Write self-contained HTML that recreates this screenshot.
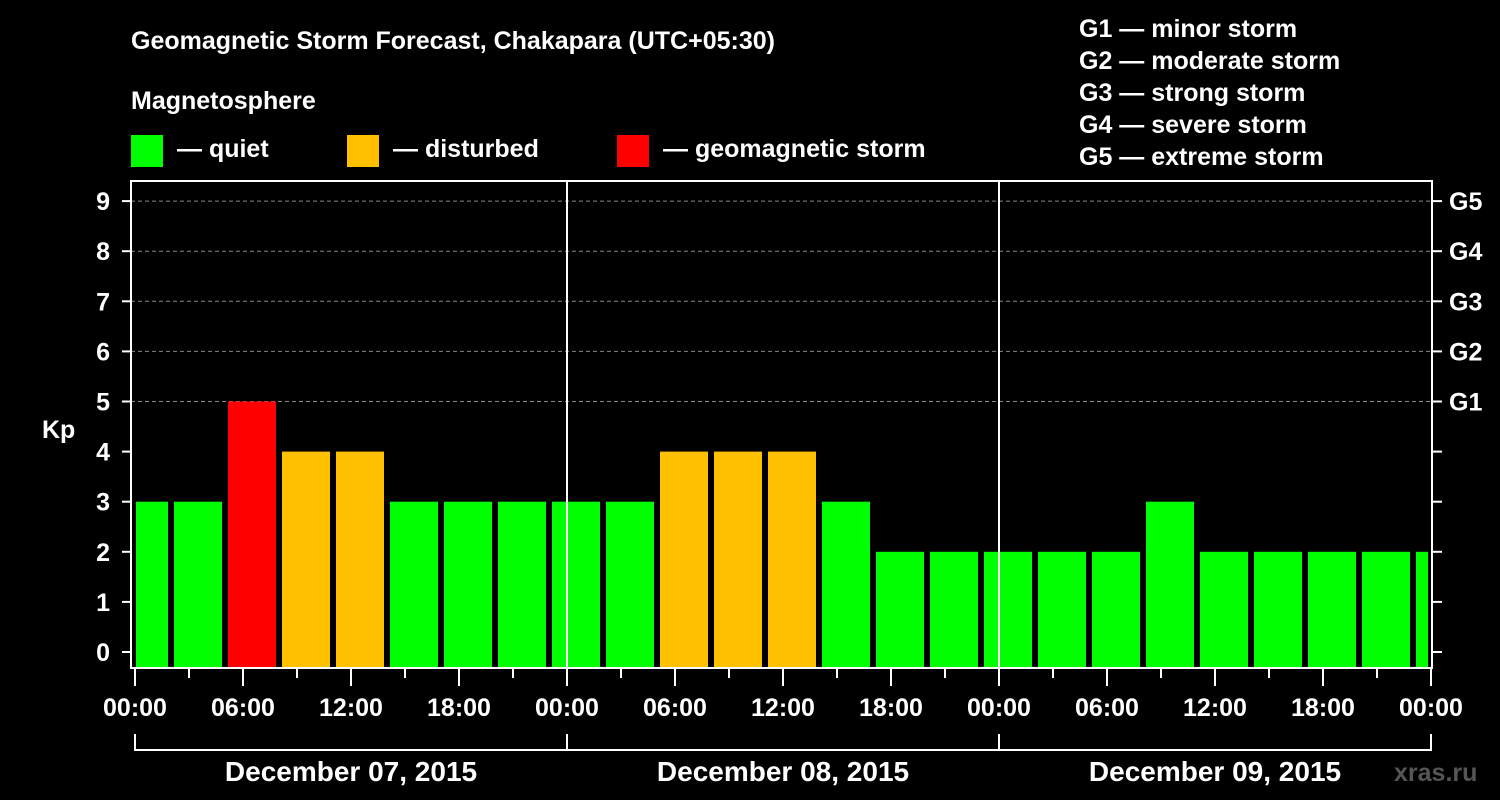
<!DOCTYPE html>
<html><head><meta charset="utf-8"><style>
html,body{margin:0;padding:0;background:#000;}
svg{display:block;font-family:"Liberation Sans",Arial,sans-serif;font-weight:bold;}
</style></head><body>
<svg id="chart" width="1500" height="800" viewBox="0 0 1500 800" xmlns="http://www.w3.org/2000/svg">
<rect width="1500" height="800" fill="#000"/>
<text x="131" y="49" fill="#fff" font-size="25">Geomagnetic Storm Forecast, Chakapara (UTC+05:30)</text>
<text x="131" y="109" fill="#fff" font-size="25">Magnetosphere</text>
<g><rect x="131" y="135" width="32" height="32" fill="#00ff00"/><text x="177" y="157" fill="#fff" font-size="25">— quiet</text></g>
<g><rect x="347" y="135" width="32" height="32" fill="#ffc000"/><text x="393" y="157" fill="#fff" font-size="25">— disturbed</text></g>
<g><rect x="617" y="135" width="32" height="32" fill="#ff0000"/><text x="663" y="157" fill="#fff" font-size="25">— geomagnetic storm</text></g>
<g fill="#fff" font-size="25">
<text x="1079" y="37">G1 — minor storm</text>
<text x="1079" y="69">G2 — moderate storm</text>
<text x="1079" y="101">G3 — strong storm</text>
<text x="1079" y="133">G4 — severe storm</text>
<text x="1079" y="165">G5 — extreme storm</text>
</g>
<text x="42" y="438" fill="#fff" font-size="25">Kp</text>
<text x="1394" y="781" fill="#555" font-size="25">xras.ru</text>
<defs><clipPath id="pc"><rect x="136" y="180" width="1292" height="488"/></clipPath></defs>
<g id="grid"></g>
<g id="bars" clip-path="url(#pc)"></g>
<g id="axes"></g>
</svg>
<script>
const kpValues=[3,3,5,4,4,3,3,3,3,3,4,4,4,3,2,2,2,2,2,3,2,2,2,2,2];
const yTicks=[0,1,2,3,4,5,6,7,8,9];
const gLabels=["G1","G2","G3","G4","G5"];
const gLevels=[5,6,7,8,9];
const xTickLabels=["00:00","06:00","12:00","18:00","00:00","06:00","12:00","18:00","00:00","06:00","12:00","18:00","00:00"];
const dayLabels=["December 07, 2015","December 08, 2015","December 09, 2015"];
const slotStartHour=-1;
const slotHours=3;

const NS="http://www.w3.org/2000/svg";
const X0=135,PXH=18,Y0=652,PXK=50.1,L=131,R=1432,T=181,B=668;
const xs=h=>X0+h*PXH, ys=k=>Y0-k*PXK;
function mk(tag,at,parent){const e=document.createElementNS(NS,tag);for(const k in at)e.setAttribute(k,at[k]);parent.appendChild(e);return e;}
const grid=document.getElementById('grid'),bars=document.getElementById('bars'),axes=document.getElementById('axes');
gLevels.forEach((k,i)=>{
 const l=mk('line',{x1:L,x2:R,y1:ys(k),y2:ys(k),stroke:'#888','stroke-dasharray':'4,3','stroke-width':1},grid);
 
 
 const t=mk('text',{x:1449,y:ys(k)+9,fill:'#fff','font-size':25},axes);t.textContent=gLabels[i];
 
 
});
kpValues.forEach((v,i)=>{
 const h0=slotStartHour+i*slotHours;
 const col=v>=5?'#ff0000':(v>=4?'#ffc000':'#00ff00');
 const r=mk('rect',{x:xs(h0)+3,y:ys(v),width:slotHours*PXH-6,height:B-1-ys(v),fill:col},bars);
 
 
});
// day separators
[1,2].forEach(d=>{const l=mk('line',{x1:xs(d*24),x2:xs(d*24),y1:T,y2:B,stroke:'#fff','stroke-width':2},axes);
 
 });
// frame
const f=mk('rect',{x:L,y:T,width:R-L,height:B-T,fill:'none',stroke:'#fff','stroke-width':2},axes);


yTicks.forEach(k=>{
 mk('line',{x1:122,x2:L,y1:ys(k),y2:ys(k),stroke:'#fff','stroke-width':2},axes);
 mk('line',{x1:R,x2:1442,y1:ys(k),y2:ys(k),stroke:'#fff','stroke-width':2},axes);
 const t=mk('text',{x:110,y:ys(k)+9,fill:'#fff','font-size':25,'text-anchor':'end'},axes);t.textContent=k;
 
 
});
for(let h=0;h<=72;h+=3){
 const major=h%6===0;
 mk('line',{x1:xs(h),x2:xs(h),y1:B,y2:major?686:678,stroke:'#fff','stroke-width':2},axes);
}
xTickLabels.forEach((s,i)=>{
 const t=mk('text',{x:xs(i*6),y:716,fill:'#fff','font-size':25,'text-anchor':'middle'},axes);t.textContent=s;
 
 
});
dayLabels.forEach((s,i)=>{
 const a=xs(i*24),b=xs((i+1)*24);
 mk('path',{d:`M${a} 734V750H${b}`+(i===2?'V734':''),fill:'none',stroke:'#fff','stroke-width':2},axes);
 const t=mk('text',{x:(a+b)/2,y:781,fill:'#fff','font-size':28,'text-anchor':'middle'},axes);t.textContent=s;
 
 
});
</script>
</body></html>
